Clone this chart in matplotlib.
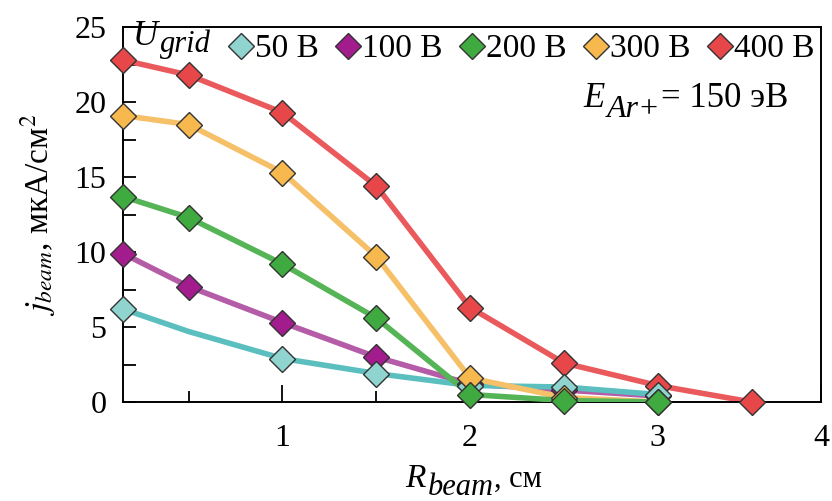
#!/usr/bin/env python3
"""Radial beam current density profiles for several grid voltages."""
import matplotlib
matplotlib.use("Agg")
import matplotlib.pyplot as plt
from matplotlib.lines import Line2D
from matplotlib.ticker import MultipleLocator

plt.rcParams["font.family"] = ["Liberation Serif", "DejaVu Serif"]
plt.rcParams["mathtext.fontset"] = "stix"

# radius, cm
r_beam = [0.15, 0.5, 1.0, 1.5, 2.0, 2.5, 3.0, 3.5]

# current density, uA/cm^2
j_50 = [6.2, 4.7, 2.9, 1.9, 1.1, 1.0, 0.5]
j_100 = [9.9, 7.7, 5.3, 3.0, 1.2, 0.8, 0.4]
j_200 = [13.7, 12.3, 9.2, 5.6, 0.5, 0.1, 0.0]
j_300 = [19.1, 18.5, 15.3, 9.7, 1.6, 0.3, 0.0]
j_400 = [22.8, 21.8, 19.3, 14.4, 6.3, 2.6, 1.1, 0.0]

voltage_labels = ["50 В", "100 В", "200 В", "300 В", "400 В"]

series = [
    # values, marker colour, line colour, markers to show
    (j_400, "#e8474a", "#ea5a5c", None),
    (j_100, "#a21c8e", "#b45ca8", None),
    (j_50, "#8fd4cf", "#5bbfc0", [0, 2, 3, 4, 5, 6]),
    (j_300, "#f7b84e", "#f5c068", None),
    (j_200, "#3faa3f", "#55b455", None),
]


def text_with_sub(ax, x, y, main, sub, tail="", size=24, sub_size=20, drop=-4,
                  tail_size=None):
    """Italic symbol with a large italic subscript and optional upright tail."""
    t0 = ax.text(x, y, main, transform=ax.transAxes, fontsize=size,
                 style="italic", ha="left", va="bottom", clip_on=False)
    t1 = ax.annotate(sub, xy=(1, 0), xycoords=t0, xytext=(1.5, drop),
                     textcoords="offset points", fontsize=sub_size,
                     style="italic", ha="left", va="bottom",
                     annotation_clip=False)
    if tail:
        ax.annotate(tail, xy=(1, 0), xycoords=(t1, t0), xytext=(0, 0),
                    textcoords="offset points", fontsize=tail_size or size,
                    ha="left", va="bottom", annotation_clip=False)


fig = plt.figure(figsize=(8.32, 5.01), dpi=100)
ax = fig.add_axes([0.1478, 0.1976, 0.9868 - 0.1478, 0.946 - 0.1976])

for z, (vals, mcol, lcol, every) in enumerate(series):
    x = r_beam[:len(vals)]
    ax.plot(x, vals, color=lcol, lw=4.0, solid_joinstyle="round",
            solid_capstyle="round", zorder=2 + z)
    ax.plot(x, vals, ls="none", marker="D", ms=13, mfc=mcol, mec="#333333",
            mew=1.0, markevery=every, zorder=10 + z, clip_on=False)

ax.set_xlim(0.15, 3.87)
ax.set_ylim(0, 25)
ax.set_xticks([1, 2, 3, 3.87])
ax.set_xticklabels(["1", "2", "3", "4"])
ax.xaxis.set_minor_locator(MultipleLocator(0.5))
ax.yaxis.set_major_locator(MultipleLocator(5))
ax.yaxis.set_minor_locator(MultipleLocator(2.5))
ax.tick_params(axis="both", which="both", direction="in", labelsize=23,
               width=1.3, top=False, right=False)
ax.tick_params(axis="x", which="major", length=12, pad=16)
ax.tick_params(axis="x", which="minor", length=8)
ax.tick_params(axis="y", which="both", length=9, pad=12)
for sp in ax.spines.values():
    sp.set_linewidth(1.4)

# axis titles
text_with_sub(ax, 0.405, -0.245, "R", "beam", ", см", size=24, sub_size=22,
              drop=-6, tail_size=22)
ax.set_ylabel("$j_{beam}$, мкА/см$^2$", fontsize=24, labelpad=12)

handles = [Line2D([], [], ls="none", marker="D", ms=13, mfc=mcol,
                  mec="#333333", mew=1.0)
           for mcol in ["#8fd4cf", "#a21c8e", "#3faa3f", "#f7b84e", "#e8474a"]]
text_with_sub(ax, 0.014, 0.93, "U", "grid", size=25, sub_size=22, drop=-4)
ax.legend(handles, voltage_labels, ncol=5, loc="upper right",
          bbox_to_anchor=(1.019, 1.035), frameon=False, fontsize=24,
          handlelength=0.65, handletextpad=0.1, columnspacing=0.55,
          borderaxespad=0.2)
text_with_sub(ax, 0.66, 0.765, "E", "Ar+", "= 150 эВ", size=25,
              sub_size=23, drop=-6)

fig.savefig("out.png", dpi=100)
